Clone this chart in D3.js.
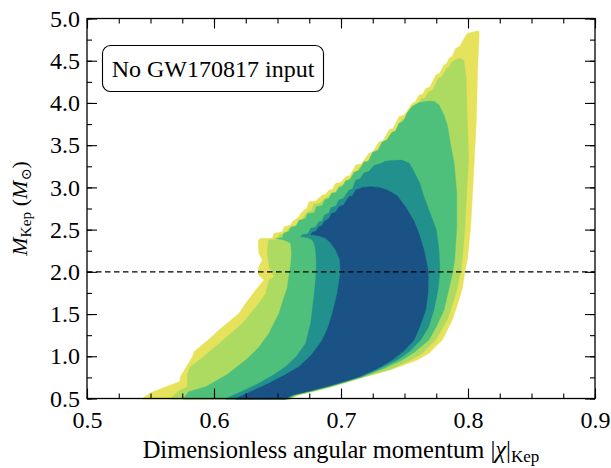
<!DOCTYPE html>
<html>
<head>
<meta charset="utf-8">
<script src="https://cdn.jsdelivr.net/npm/d3@7"></script>
<style>
  html, body { margin: 0; padding: 0; background: #ffffff; }
  svg { display: block; }
</style>
</head>
<body>
<svg id="chart" width="611" height="468"></svg>
<script>
// ---------------- data ----------------
const xTickValues = [0.5, 0.6, 0.7, 0.8, 0.9];
const xMinorValues = d3.range(0, 17).map(i => 0.5 + i * 0.025);
const yTickValues = [0.5, 1.0, 1.5, 2.0, 2.5, 3.0, 3.5, 4.0, 4.5, 5.0];
const yMinorValues = d3.range(0, 19).map(i => 0.5 + i * 0.25);
const referenceMass = 2.0;
const annotationText = "No GW170817 input";
const regionColors = ["#e6e25b", "#addb62", "#4fc07c", "#22908c", "#1a5286"];

// Credible regions (outermost to innermost), [chi, M]
const regionOuter = [
 [0.5435,0.49],[0.5435,0.50],[0.5505,0.57],[0.5580,0.615],[0.5730,0.700],[0.5735,0.758],[0.5829,0.995],[0.5843,1.054],[0.5980,1.228],[0.6039,1.311],[0.6197,1.509],[0.6250,1.627],[0.6328,1.785],[0.6394,1.903],[0.6349,1.962],[0.6349,2.041],[0.6380,2.140],[0.6354,2.219],[0.6349,2.300],[0.6349,2.377],[0.6367,2.397],
 [0.6459,2.397],[0.6472,2.456],[0.6538,2.475],[0.6551,2.534],[0.6604,2.554],[0.6617,2.593],[0.6669,2.653],[0.6682,2.692],[0.6709,2.732],[0.6730,2.750],[0.6748,2.830],[0.6800,2.840],[0.6853,2.910],[0.6880,2.920],[0.6906,2.969],[0.6930,2.975],[0.6958,3.048],[0.7000,3.060],[0.7037,3.127],[0.7070,3.140],[0.7116,3.265],[0.7160,3.280],[0.7220,3.404],[0.7250,3.420],[0.7299,3.541],[0.7330,3.550],[0.7378,3.680],[0.7410,3.700],[0.7457,3.837],[0.7500,3.860],[0.7561,3.996],[0.7585,4.010],[0.7614,4.094],[0.7640,4.100],[0.7667,4.173],[0.7700,4.190],[0.7746,4.331],[0.7775,4.350],[0.7811,4.449],[0.7830,4.460],[0.7850,4.529],[0.7875,4.550],[0.7903,4.647],[0.7935,4.670],[0.7969,4.766],[0.7995,4.825],[0.8073,4.852],[0.8087,4.850],
 [0.8088,4.800],[0.8076,4.400],[0.8066,3.800],[0.8050,3.324],[0.8035,2.900],[0.8021,2.534],[0.7995,2.140],[0.7976,2.000],[0.7955,1.800],[0.7929,1.666],[0.7877,1.430],[0.7798,1.193],[0.7693,1.035],[0.7600,0.957],[0.7420,0.855],[0.7300,0.800],[0.7194,0.758],[0.7060,0.700],[0.6932,0.640],[0.6800,0.590],[0.6669,0.541],[0.6610,0.500],[0.6605,0.49]
];
const region2 = [
 [0.5658,0.49],[0.5658,0.50],[0.5720,0.590],[0.5790,0.640],[0.5790,0.778],[0.5811,0.874],[0.5920,1.000],[0.6040,1.150],[0.6223,1.390],[0.6354,1.627],[0.6407,1.746],[0.6433,1.903],[0.6472,1.942],[0.6459,2.000],[0.6433,2.061],[0.6420,2.219],[0.6425,2.330],[0.6433,2.377],
 [0.6500,2.385],[0.6515,2.440],[0.6570,2.455],[0.6585,2.510],[0.6635,2.530],[0.6650,2.570],[0.6700,2.630],[0.6715,2.670],[0.6740,2.710],[0.6770,2.730],[0.6785,2.800],[0.6835,2.815],[0.6880,2.880],[0.6905,2.890],[0.6930,2.940],[0.6955,2.945],[0.6985,3.020],[0.7025,3.030],[0.7060,3.100],[0.7095,3.110],[0.7140,3.230],[0.7185,3.245],[0.7245,3.370],[0.7275,3.385],[0.7322,3.505],[0.7355,3.515],[0.7400,3.640],[0.7432,3.660],[0.7478,3.800],[0.7522,3.820],[0.7580,3.950],[0.7605,3.965],[0.7632,4.050],[0.7660,4.060],[0.7688,4.130],[0.7720,4.150],[0.7765,4.290],[0.7795,4.310],[0.7830,4.410],[0.7850,4.420],[0.7870,4.480],[0.7905,4.515],[0.7942,4.529],
 [0.7968,4.500],[0.7985,4.300],[0.7995,3.800],[0.8005,3.324],[0.7990,2.930],[0.7976,2.534],[0.7955,2.140],[0.7942,2.000],[0.7915,1.800],[0.7890,1.666],[0.7837,1.430],[0.7745,1.193],[0.7640,1.035],[0.7549,0.957],[0.7395,0.850],[0.7185,0.758],[0.7050,0.695],[0.6920,0.640],[0.6790,0.588],[0.6655,0.541],[0.6600,0.500],[0.6595,0.49]
];
const region3 = [
 [0.5759,0.49],[0.5759,0.50],[0.5800,0.580],[0.5934,0.640],[0.6100,0.780],[0.6250,0.956],[0.6350,1.100],[0.6433,1.272],[0.6512,1.509],[0.6551,1.700],[0.6575,1.800],[0.6590,1.950],[0.6605,2.100],[0.6610,2.220],[0.6604,2.338],[0.6551,2.377],[0.6486,2.397],
 [0.6538,2.405],[0.6550,2.460],[0.6590,2.480],[0.6605,2.530],[0.6650,2.545],[0.6669,2.610],[0.6720,2.630],[0.6735,2.690],[0.6790,2.700],[0.6805,2.770],[0.6853,2.785],[0.6870,2.850],[0.6906,2.870],[0.6925,2.930],[0.6960,2.940],[0.6984,3.000],[0.7010,3.010],[0.7037,3.080],[0.7070,3.090],[0.7102,3.180],[0.7140,3.200],[0.7180,3.300],[0.7215,3.310],[0.7250,3.420],[0.7290,3.440],[0.7325,3.540],[0.7360,3.560],[0.7400,3.650],[0.7430,3.670],[0.7457,3.760],[0.7490,3.780],[0.7520,3.880],[0.7561,3.960],
 [0.7614,4.005],[0.7693,4.023],[0.7732,4.020],[0.7772,3.976],[0.7811,3.857],[0.7837,3.739],[0.7864,3.500],[0.7890,3.300],[0.7912,2.930],[0.7912,2.534],[0.7895,2.140],[0.7880,2.000],[0.7850,1.800],[0.7811,1.548],[0.7750,1.350],[0.7693,1.193],[0.7580,1.050],[0.7483,0.957],[0.7330,0.850],[0.7172,0.758],[0.7040,0.697],[0.6908,0.640],[0.6775,0.589],[0.6640,0.541],[0.6585,0.500],[0.6580,0.49]
];
const region4 = [
 [0.6092,0.49],[0.6092,0.50],[0.6200,0.570],[0.6354,0.680],[0.6470,0.780],[0.6564,0.876],[0.6650,1.000],[0.6722,1.153],[0.6761,1.390],[0.6787,1.705],[0.6800,1.903],[0.6805,2.000],[0.6805,2.150],[0.6800,2.259],[0.6790,2.330],[0.6774,2.377],[0.6740,2.405],[0.6682,2.416],
 [0.6695,2.440],[0.6740,2.450],[0.6761,2.515],[0.6800,2.530],[0.6827,2.593],[0.6850,2.600],[0.6870,2.670],[0.6906,2.700],[0.6920,2.760],[0.6960,2.780],[0.6984,2.850],[0.7020,2.870],[0.7063,2.969],[0.7090,2.980],[0.7116,3.087],[0.7150,3.100],[0.7180,3.170],[0.7220,3.190],[0.7260,3.260],[0.7310,3.280],[0.7350,3.310],
 [0.7400,3.318],[0.7479,3.323],[0.7535,3.290],[0.7571,3.197],[0.7620,3.050],[0.7650,2.900],[0.7700,2.700],[0.7750,2.500],[0.7772,2.250],[0.7778,2.000],[0.7765,1.800],[0.7732,1.548],[0.7690,1.350],[0.7627,1.193],[0.7540,1.060],[0.7443,0.957],[0.7300,0.850],[0.7160,0.758],[0.7030,0.698],[0.6895,0.640],[0.6765,0.589],[0.6630,0.541],[0.6575,0.500],[0.6570,0.49]
];
const regionInner = [
 [0.6171,0.49],[0.6171,0.50],[0.6300,0.590],[0.6433,0.680],[0.6560,0.780],[0.6669,0.876],[0.6770,1.020],[0.6853,1.193],[0.6900,1.350],[0.6932,1.509],[0.6971,1.746],[0.6997,2.000],[0.6990,2.150],[0.6958,2.259],[0.6920,2.340],[0.6879,2.397],[0.6830,2.425],[0.6787,2.436],[0.6760,2.440],
 [0.6775,2.470],[0.6800,2.480],[0.6827,2.534],[0.6850,2.545],[0.6870,2.600],[0.6906,2.633],[0.6925,2.690],[0.6960,2.710],[0.6984,2.771],[0.7020,2.790],[0.7063,2.889],[0.7090,2.900],[0.7116,2.969],[0.7170,3.000],
 [0.7234,3.008],[0.7299,3.000],[0.7370,2.965],[0.7443,2.900],[0.7510,2.764],[0.7575,2.600],[0.7614,2.450],[0.7655,2.250],[0.7688,2.000],[0.7685,1.750],[0.7667,1.548],[0.7620,1.350],[0.7575,1.193],[0.7500,1.070],[0.7404,0.957],[0.7280,0.850],[0.7142,0.758],[0.7010,0.695],[0.6880,0.640],[0.6750,0.590],[0.6617,0.541],[0.6564,0.500],[0.6560,0.49]
];
const regions = [regionOuter, region2, region3, region4, regionInner];

// ---------------- layout ----------------
const FONT = '"Liberation Serif", "Times New Roman", "DejaVu Serif"';
const fs = 24;
const margin = {left: 87, right: 16, top: 18.5, bottom: 69.5};
const W = 611, H = 468;
const x = d3.scaleLinear().domain([0.5, 0.9]).range([margin.left, W - margin.right]);
const y = d3.scaleLinear().domain([0.5, 5.0]).range([H - margin.bottom, margin.top]);

const svg = d3.select("#chart");
const defs = svg.append("defs");
defs.append("clipPath").attr("id", "clip")
  .append("rect")
  .attr("x", x(0.5)).attr("y", y(5.0))
  .attr("width", x(0.9) - x(0.5))
  .attr("height", y(0.5) - y(5.0) + 2.5);

const area = d3.line().x(d => x(d[0])).y(d => y(d[1])).curve(d3.curveLinear);
const g = svg.append("g").attr("clip-path", "url(#clip)");
g.selectAll("path.region").data(regions).join("path")
  .attr("class", "region")
  .attr("d", d => area(d) + "Z")
  .attr("fill", (d, i) => regionColors[i])
  .attr("stroke", (d, i) => regionColors[i])
  .attr("stroke-width", 0.4);

// dashed reference line
svg.append("line")
  .attr("x1", x(0.5)).attr("x2", x(0.9))
  .attr("y1", y(referenceMass)).attr("y2", y(referenceMass))
  .attr("stroke", "#000").attr("stroke-width", 1.2)
  .attr("stroke-dasharray", "5.5,3.5");

// axes (ticks inward on all sides)
function styleAxis(sel) {
  sel.select(".domain").remove();
  sel.attr("font-family", null).attr("font-size", null);
  sel.selectAll("line").attr("stroke", "#000").attr("stroke-width", 1.1);
  sel.selectAll("text").style("font-family", FONT).style("font-size", fs + "px").attr("fill", "#000");
}
svg.append("g").attr("transform", `translate(0,${y(0.5)})`)
  .call(d3.axisBottom(x).tickValues(xTickValues).tickSize(-10).tickPadding(12).tickFormat(d3.format(".1f")))
  .call(styleAxis);
svg.append("g").attr("transform", `translate(0,${y(0.5)})`)
  .call(d3.axisBottom(x).tickValues(xMinorValues).tickSize(-5).tickFormat(""))
  .call(styleAxis);
svg.append("g").attr("transform", `translate(0,${y(5.0)})`)
  .call(d3.axisTop(x).tickValues(xTickValues).tickSize(-10).tickFormat(""))
  .call(styleAxis);
svg.append("g").attr("transform", `translate(0,${y(5.0)})`)
  .call(d3.axisTop(x).tickValues(xMinorValues).tickSize(-5).tickFormat(""))
  .call(styleAxis);

svg.append("g").attr("transform", `translate(${x(0.5)},0)`)
  .call(d3.axisLeft(y).tickValues(yTickValues).tickSize(-10).tickPadding(7).tickFormat(d3.format(".1f")))
  .call(styleAxis);
svg.append("g").attr("transform", `translate(${x(0.5)},0)`)
  .call(d3.axisLeft(y).tickValues(yMinorValues).tickSize(-5).tickFormat(""))
  .call(styleAxis);
svg.append("g").attr("transform", `translate(${x(0.9)},0)`)
  .call(d3.axisRight(y).tickValues(yTickValues).tickSize(-10).tickFormat(""))
  .call(styleAxis);
svg.append("g").attr("transform", `translate(${x(0.9)},0)`)
  .call(d3.axisRight(y).tickValues(yMinorValues).tickSize(-5).tickFormat(""))
  .call(styleAxis);

// frame
svg.append("rect")
  .attr("x", x(0.5)).attr("y", y(5.0))
  .attr("width", x(0.9) - x(0.5)).attr("height", y(0.5) - y(5.0))
  .attr("fill", "none").attr("stroke", "#000").attr("stroke-width", 1.3);

// annotation box
svg.append("rect")
  .attr("x", 102.5).attr("y", 45.5).attr("width", 221).attr("height", 46)
  .attr("rx", 8).attr("ry", 8)
  .attr("fill", "#fff").attr("stroke", "#000").attr("stroke-width", 1.1);
svg.append("text")
  .attr("x", 213).attr("y", 77)
  .attr("text-anchor", "middle")
  .style("font-family", FONT).style("font-size", fs + "px")
  .text(annotationText);

// x label
const xt = svg.append("text")
  .attr("x", 341).attr("y", 458)
  .attr("text-anchor", "middle")
  .style("font-family", FONT).style("font-size", "24.5px");
xt.append("tspan").text("Dimensionless angular momentum |");
xt.append("tspan").style("font-style", "italic").text("χ");
xt.append("tspan").text("|");
xt.append("tspan").style("font-size", "17px").attr("dy", 4).text("Kep");

// y label
const yfs = 22;
const ytl = svg.append("text")
  .attr("transform", `translate(27,${(y(0.5) + y(5.0)) / 2}) rotate(-90)`)
  .attr("text-anchor", "middle")
  .style("font-family", FONT).style("font-size", yfs + "px");
ytl.append("tspan").style("font-style", "italic").text("M");
ytl.append("tspan").style("font-size", (yfs * 0.7) + "px").attr("dy", 4).text("Kep");
ytl.append("tspan").attr("dy", -4).text(" (");
ytl.append("tspan").style("font-style", "italic").text("M");
ytl.append("tspan").style("font-size", (yfs * 0.65) + "px").attr("dy", 4).text("⊙");
ytl.append("tspan").attr("dy", -4).text(")");
</script>
</body>
</html>
